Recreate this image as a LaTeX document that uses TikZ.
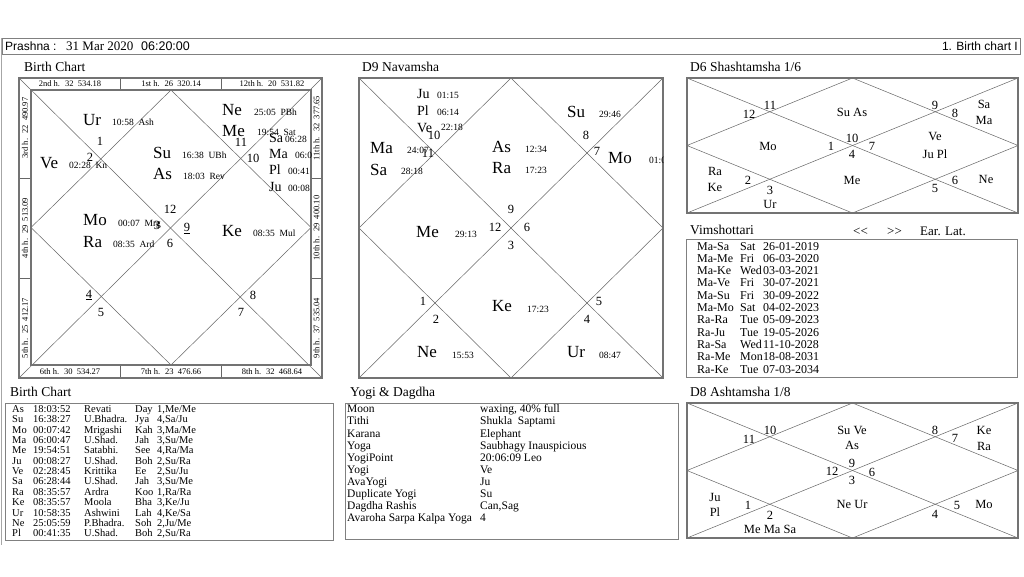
\documentclass[tikz,border=0pt]{standalone}
\usepackage{fontspec}
\setmainfont{Liberation Serif}
\newfontfamily\arialf{Liberation Sans}
\newcommand\fsz[1]{\fontsize{#1}{#1}\selectfont}
\newcounter{nid}
\newcommand\tn[3]{\stepcounter{nid}\node[#1] (t\arabic{nid}) at (#2) {#3};}
\newcommand\brow[6]{\tn{tb}{12,#1}{#2}\tn{tb}{33,#1}{#3}\tn{tb}{84,#1}{#4}\tn{tb}{135,#1}{#5}\tn{tb}{157,#1}{#6}}
\newcommand\yrow[3]{\tn{yg}{347,#1}{#2}\tn{yg}{480,#1}{#3}}
\newcommand\vrow[4]{\tn{vm}{697,#1}{#2}\tn{vm}{740,#1}{#3}\tn{vm}{763,#1}{#4}}
\tikzset{
 pbig/.style={font=\fsz{17}, anchor=base west, inner sep=0pt, yshift=-5.6pt},
 pmid/.style={font=\fsz{14}, anchor=base west, inner sep=0pt, yshift=-4.6pt},
 psm/.style={font=\fsz{9.5}, anchor=base west, inner sep=0pt, yshift=-3.2pt},
 hn/.style={font=\fsz{12.5}, anchor=base, inner sep=0pt, yshift=-4.2pt},
 dn/.style={font=\fsz{12.5}, anchor=base, inner sep=0pt, yshift=-4.2pt},
 hstrip/.style={font=\fsz{8.5}, inner sep=0pt, anchor=center},
 ttl/.style={font=\fsz{13.5}, anchor=base west, inner sep=0pt, yshift=-4.5pt},
 tb/.style={font=\fsz{10.5}, anchor=base west, inner sep=0pt, yshift=-3.5pt},
 yg/.style={font=\fsz{11.5}, anchor=base west, inner sep=0pt, yshift=-3.8pt},
 vm/.style={font=\fsz{12}, anchor=base west, inner sep=0pt, yshift=-4pt},
 hdr/.style={anchor=base west, inner sep=0pt, yshift=-4.3pt},
 chframe/.style={draw=black!55, line width=1.3pt},
 tbox/.style={draw=black!50, line width=1pt},
 chl/.style={draw=black!60, line width=0.5pt},
}
\begin{document}
\begin{tikzpicture}[x=1pt,y=-1pt]
\useasboundingbox (0,0) rectangle (1024,576);
\fill[white] (0,0) rectangle (1024,576);
% top bar
\draw[black!35, line width=1pt] (1.5,38) -- (1.5,545);
\draw[tbox] (2.5,38.5) rectangle (1020.5,54.5);
\node[hdr, font=\arialf\fsz{12}] (hd1) at (5,46) {Prashna :};
\node[hdr, font=\fsz{13}] (hd2) at (66,46) {31 Mar 2020};
\node[hdr, font=\arialf\fsz{12.5}] (hd3) at (141,46) {06:20:00};
\node[anchor=base east, inner sep=0pt, yshift=-4.3pt, font=\arialf\fsz{12}] (hd4) at (1018,46) {1. Birth chart I};
% titles
\tn{ttl}{24,67}{Birth Chart}
\tn{ttl}{362,67}{D9 Navamsha}
\tn{ttl}{690,67}{D6 Shashtamsha 1/6}
\tn{ttl}{690,230}{Vimshottari}
\tn{ttl}{10,392}{Birth Chart}
\tn{ttl}{350,392}{Yogi \& Dagdha}
\tn{ttl}{690,392}{D8 Ashtamsha 1/8}
\node[hdr, font=\fsz{13}] (vb1) at (853,231) {{<}{<}};
\node[hdr, font=\fsz{13}] (vb2) at (887,231) {{>}{>}};
\node[hdr, font=\fsz{13}] (vb3) at (920,231) {Ear.};
\node[hdr, font=\fsz{13}] (vb4) at (945,231) {Lat.};

% ===== Birth chart =====
\draw[chl] (19,78) -- (322,378);
\draw[chl] (322,78) -- (19,378);
\draw[chl] (171,90) -- (311,227.5) -- (171,365) -- (31,227.5) -- cycle;
\draw[chl] (120,78) -- (120,90) (221,78) -- (221,90) (120,365) -- (120,378) (221,365) -- (221,378);
\draw[chl] (19,178) -- (31,178) (19,278) -- (31,278) (311,178) -- (322,178) (311,278) -- (322,278);
\draw[chframe] (19,78) rectangle (322,378);
\draw[chframe] (31,90) rectangle (311,365);
\tn{hstrip}{70,84}{2nd h.~ 32~ 534.18}
\tn{hstrip}{171,84}{1st h.~ 26~ 320.14}
\tn{hstrip}{272,84}{12th h.~ 20~ 531.82}
\tn{hstrip}{70,371.5}{6th h.~ 30~ 534.27}
\tn{hstrip}{171,371.5}{7th h.~ 23~ 476.66}
\tn{hstrip}{272,371.5}{8th h.~ 32~ 468.64}
\tn{hstrip,rotate=90}{25,128}{3rd h.~ 22~ 490.97}
\tn{hstrip,rotate=90}{25,228}{4th h.~ 29~ 513.09}
\tn{hstrip,rotate=90}{25,328}{5th h.~ 25~ 412.17}
\tn{hstrip,rotate=90}{316.5,128}{11th h.~ 32~ 377.65}
\tn{hstrip,rotate=90}{316.5,228}{10th h.~ 29~ 400.10}
\tn{hstrip,rotate=90}{316.5,328}{9th h.~ 37~ 535.04}
\begin{scope}
\clip (31,90) rectangle (311,365);
\tn{pbig}{83,120}{Ur}\tn{psm}{112,122}{10:58~ Ash}
\tn{pbig}{40,163}{Ve}\tn{psm}{69,165}{02:28~ Kn}
\tn{pbig}{153,153}{Su}\tn{psm}{182,155}{16:38~ UBh}
\tn{pbig}{153,174}{As}\tn{psm}{183,176}{18:03~ Rev}
\tn{pbig}{222,110}{Ne}\tn{psm}{254,112}{25:05~ PBh}
\tn{pbig}{222,131}{Me}\tn{psm}{257,132}{19:54~ Sat}
\tn{pmid}{269,138}{Sa}\tn{psm}{285,139}{06:28}
\tn{pmid}{269,154}{Ma}\tn{psm}{295,155}{06:00}
\tn{pmid}{269,170}{Pl}\tn{psm}{288,171}{00:41}
\tn{pmid}{269,187}{Ju}\tn{psm}{288,188}{00:08}
\tn{pbig}{83,220}{Mo}\tn{psm}{118,223}{00:07~ Mrg}
\tn{pbig}{83,242}{Ra}\tn{psm}{113,244}{08:35~ Ard}
\tn{pbig}{222,231}{Ke}\tn{psm}{253,233}{08:35~ Mul}
\tn{hn}{100,141}{1}
\tn{hn}{90,157}{2}
\tn{hn}{241,142}{11}
\tn{hn}{253,158}{10}
\tn{hn}{170,209}{12}
\tn{hn}{157,225}{3}
\tn{hn}{187,227}{\underline{9}}
\tn{hn}{170,243}{6}
\tn{hn}{89,294}{\underline{4}}
\tn{hn}{101,312}{5}
\tn{hn}{253,295}{8}
\tn{hn}{241,312}{7}
\end{scope}

% ===== D9 =====
\draw[chl] (359,78) -- (663,378);
\draw[chl] (663,78) -- (359,378);
\draw[chl] (511,78) -- (663,228) -- (511,378) -- (359,228) -- cycle;
\draw[chframe] (359,78) rectangle (663,378);
\begin{scope}
\clip (359,78) rectangle (663,378);
\tn{pmid}{417,94}{Ju}\tn{psm}{437,95}{01:15}
\tn{pmid}{417,111}{Pl}\tn{psm}{437,112}{06:14}
\tn{pmid}{417,128}{Ve}\tn{psm}{441,127}{22:18}
\tn{pbig}{370,148}{Ma}\tn{psm}{407,150}{24:07}
\tn{pbig}{370,170}{Sa}\tn{psm}{401,171}{28:18}
\tn{pbig}{567,112}{Su}\tn{psm}{599,114}{29:46}
\tn{pbig}{608,158}{Mo}\tn{psm}{649,160}{01:04}
\tn{pbig}{492,147}{As}\tn{psm}{525,149}{12:34}
\tn{pbig}{492,168}{Ra}\tn{psm}{525,170}{17:23}
\tn{pbig}{416,232}{Me}\tn{psm}{455,234}{29:13}
\tn{pbig}{492,306}{Ke}\tn{psm}{527,309}{17:23}
\tn{pbig}{417,352}{Ne}\tn{psm}{452,355}{15:53}
\tn{pbig}{567,352}{Ur}\tn{psm}{599,355}{08:47}
\tn{hn}{434,135}{10}
\tn{hn}{428,153}{11}
\tn{hn}{586,135}{8}
\tn{hn}{597,151}{7}
\tn{hn}{511,209}{9}
\tn{hn}{495,227}{12}
\tn{hn}{527,227}{6}
\tn{hn}{511,245}{3}
\tn{hn}{423,301}{1}
\tn{hn}{436,319}{2}
\tn{hn}{599,301}{5}
\tn{hn}{587,319}{4}
\end{scope}

% ===== D6 =====
\draw[chl] (687,78) -- (1018,213);
\draw[chl] (1018,78) -- (687,213);
\draw[chl] (852.5,78) -- (1018,145.5) -- (852.5,213) -- (687,145.5) -- cycle;
\draw[chframe] (687,78) rectangle (1018,213);
\tn{dn}{770,105}{11}
\tn{dn}{749,114}{12}
\tn{dn}{852,112}{Su As}
\tn{dn}{935,105}{9}
\tn{dn}{955,113}{8}
\tn{dn}{984,104}{Sa}
\tn{dn}{984,120}{Ma}
\tn{dn}{768,146}{Mo}
\tn{dn}{831,146}{1}
\tn{dn}{852,138}{10}
\tn{dn}{852,154}{4}
\tn{dn}{872,146}{7}
\tn{dn}{935,136}{Ve}
\tn{dn}{935,154}{Ju Pl}
\tn{dn}{715,171}{Ra}
\tn{dn}{715,187}{Ke}
\tn{dn}{748,180}{2}
\tn{dn}{770,190}{3}
\tn{dn}{770,204}{Ur}
\tn{dn}{852,180}{Me}
\tn{dn}{935,188}{5}
\tn{dn}{955,180}{6}
\tn{dn}{986,179}{Ne}

% ===== D8 =====
\draw[chl] (687,403) -- (1018,538);
\draw[chl] (1018,403) -- (687,538);
\draw[chl] (852.5,403) -- (1018,470.5) -- (852.5,538) -- (687,470.5) -- cycle;
\draw[chframe] (687,403) rectangle (1018,538);
\tn{dn}{749,439}{11}
\tn{dn}{770,430}{10}
\tn{dn}{852,430}{Su Ve}
\tn{dn}{852,445}{As}
\tn{dn}{935,430}{8}
\tn{dn}{955,438}{7}
\tn{dn}{984,430}{Ke}
\tn{dn}{984,446}{Ra}
\tn{dn}{852,463}{9}
\tn{dn}{832,471}{12}
\tn{dn}{872,472}{6}
\tn{dn}{852,480}{3}
\tn{dn}{715,497}{Ju}
\tn{dn}{715,512}{Pl}
\tn{dn}{748,505}{1}
\tn{dn}{770,515}{2}
\tn{dn}{770,529}{Me Ma Sa}
\tn{dn}{852,504}{Ne Ur}
\tn{dn}{935,514}{4}
\tn{dn}{957,505}{5}
\tn{dn}{984,504}{Mo}

% ===== Vimshottari =====
\draw[tbox] (686,239) rectangle (1017,377);
\vrow{246}{Ma-Sa}{Sat}{26-01-2019}
\vrow{258.3}{Ma-Me}{Fri}{06-03-2020}
\vrow{270.6}{Ma-Ke}{Wed}{03-03-2021}
\vrow{282.9}{Ma-Ve}{Fri}{30-07-2021}
\vrow{295.2}{Ma-Su}{Fri}{30-09-2022}
\vrow{307.5}{Ma-Mo}{Sat}{04-02-2023}
\vrow{319.8}{Ra-Ra}{Tue}{05-09-2023}
\vrow{332.1}{Ra-Ju}{Tue}{19-05-2026}
\vrow{344.4}{Ra-Sa}{Wed}{11-10-2028}
\vrow{356.7}{Ra-Me}{Mon}{18-08-2031}
\vrow{369}{Ra-Ke}{Tue}{07-03-2034}

% ===== Birth chart table =====
\draw[tbox] (5,403) rectangle (333,540);
\brow{409}{As}{18:03:52}{Revati}{Day}{1,Me/Me}
\brow{419.35}{Su}{16:38:27}{U.Bhadra.}{Jya}{4,Sa/Ju}
\brow{429.7}{Mo}{00:07:42}{Mrigashi}{Kah}{3,Ma/Me}
\brow{440.05}{Ma}{06:00:47}{U.Shad.}{Jah}{3,Su/Me}
\brow{450.4}{Me}{19:54:51}{Satabhi.}{See}{4,Ra/Ma}
\brow{460.75}{Ju}{00:08:27}{U.Shad.}{Boh}{2,Su/Ra}
\brow{471.1}{Ve}{02:28:45}{Krittika}{Ee}{2,Su/Ju}
\brow{481.45}{Sa}{06:28:44}{U.Shad.}{Jah}{3,Su/Me}
\brow{491.8}{Ra}{08:35:57}{Ardra}{Koo}{1,Ra/Ra}
\brow{502.15}{Ke}{08:35:57}{Moola}{Bha}{3,Ke/Ju}
\brow{512.5}{Ur}{10:58:35}{Ashwini}{Lah}{4,Ke/Sa}
\brow{522.85}{Ne}{25:05:59}{P.Bhadra.}{Soh}{2,Ju/Me}
\brow{533.2}{Pl}{00:41:35}{U.Shad.}{Boh}{2,Su/Ra}

% ===== Yogi & Dagdha =====
\draw[tbox] (345,403) rectangle (678,539);
\yrow{409}{Moon}{waxing, 40\% full}
\yrow{421.1}{Tithi}{Shukla~ Saptami}
\yrow{433.2}{Karana}{Elephant}
\yrow{445.3}{Yoga}{Saubhagy Inauspicious}
\yrow{457.4}{YogiPoint}{20:06:09 Leo}
\yrow{469.5}{Yogi}{Ve}
\yrow{481.6}{AvaYogi}{Ju}
\yrow{493.7}{Duplicate Yogi}{Su}
\yrow{505.8}{Dagdha Rashis}{Can,Sag}
\yrow{517.9}{Avaroha Sarpa Kalpa Yoga}{4}
\end{tikzpicture}
\end{document}
